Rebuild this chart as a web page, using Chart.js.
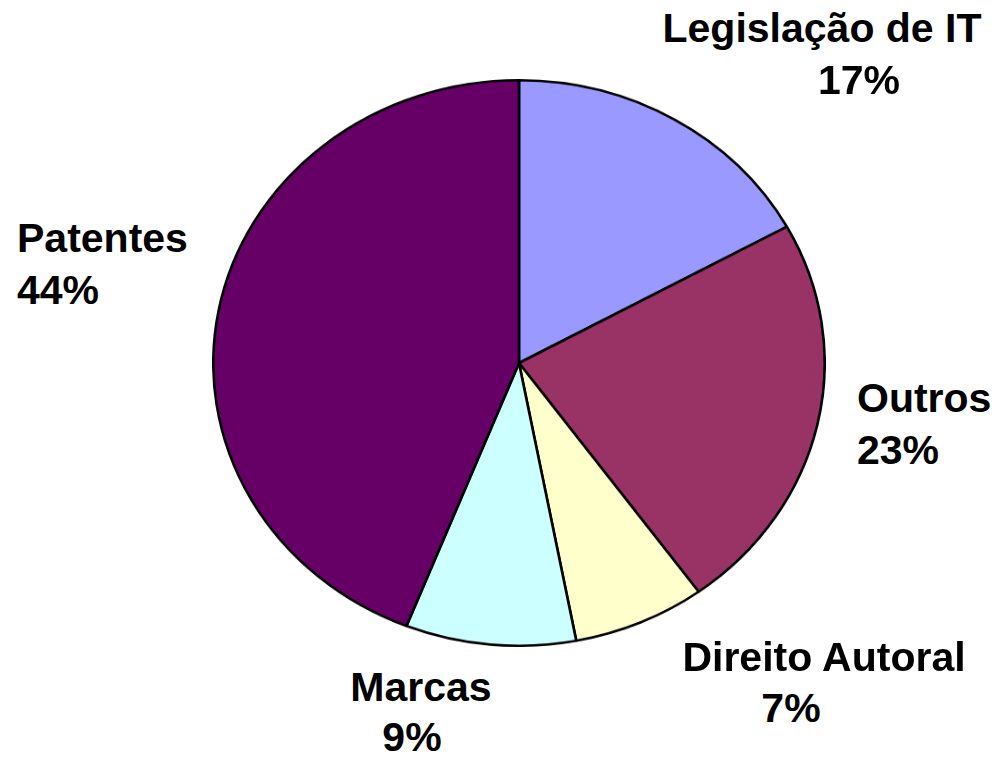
<!DOCTYPE html>
<html>
<head>
<meta charset="utf-8">
<script src="https://cdn.jsdelivr.net/npm/chart.js@4"></script>
<style>
body { margin: 0; background: #fff; width: 1000px; height: 758px; overflow: hidden; position: relative; font-family: "Liberation Sans", Arial, sans-serif; }
#pieBox { position: absolute; left: 212px; top: 56px; width: 614px; height: 614px; transform: scaleY(0.925); transform-origin: 50% 50%; }
.lbl { position: absolute; font-weight: bold; font-size: 41px; line-height: 41px; white-space: nowrap; color: #000; }
</style>
</head>
<body>
<div id="pieBox"><canvas id="pie"></canvas></div>
<script>
// data, clockwise from 12 o'clock
const categories = ["Legislação de IT", "Outros", "Direito Autoral", "Marcas", "Patentes"];
const shares = [17, 23, 7, 9, 44];
const sliceColors = ["#9999FF", "#993366", "#FFFFCC", "#CCFFFF", "#660066"];

// label placement: [x, baseline] for name line and percent line, plus alignment
const labelLayout = [
  { align: "center", name: [822, 43], pct: [859, 95] },
  { align: "left", name: [857, 413], pct: [857, 465] },
  { align: "center", name: [824, 672], pct: [791, 723] },
  { align: "center", name: [421, 702], pct: [412, 752] },
  { align: "left", name: [17, 253], pct: [17, 305] }
];

new Chart(document.getElementById("pie"), {
  type: "pie",
  data: {
    labels: categories,
    datasets: [{
      data: shares,
      backgroundColor: sliceColors,
      borderColor: "#000",
      borderWidth: 2.6
    }]
  },
  options: {
    responsive: true,
    maintainAspectRatio: false,
    animation: false,
    plugins: {
      legend: { display: false },
      tooltip: { enabled: false }
    }
  }
});

// labels as html text
function addLine(text, pos, align) {
  let div = document.createElement("div");
  div.className = "lbl";
  div.textContent = text;
  div.style.left = pos[0] + "px";
  div.style.top = (pos[1] - 35) + "px";
  if (align === "center") div.style.transform = "translateX(-50%)";
  document.body.appendChild(div);
}

categories.forEach((name, i) => {
  let l = labelLayout[i];
  addLine(name, l.name, l.align);
  addLine(shares[i] + "%", l.pct, l.align);
});
</script>
</body>
</html>
